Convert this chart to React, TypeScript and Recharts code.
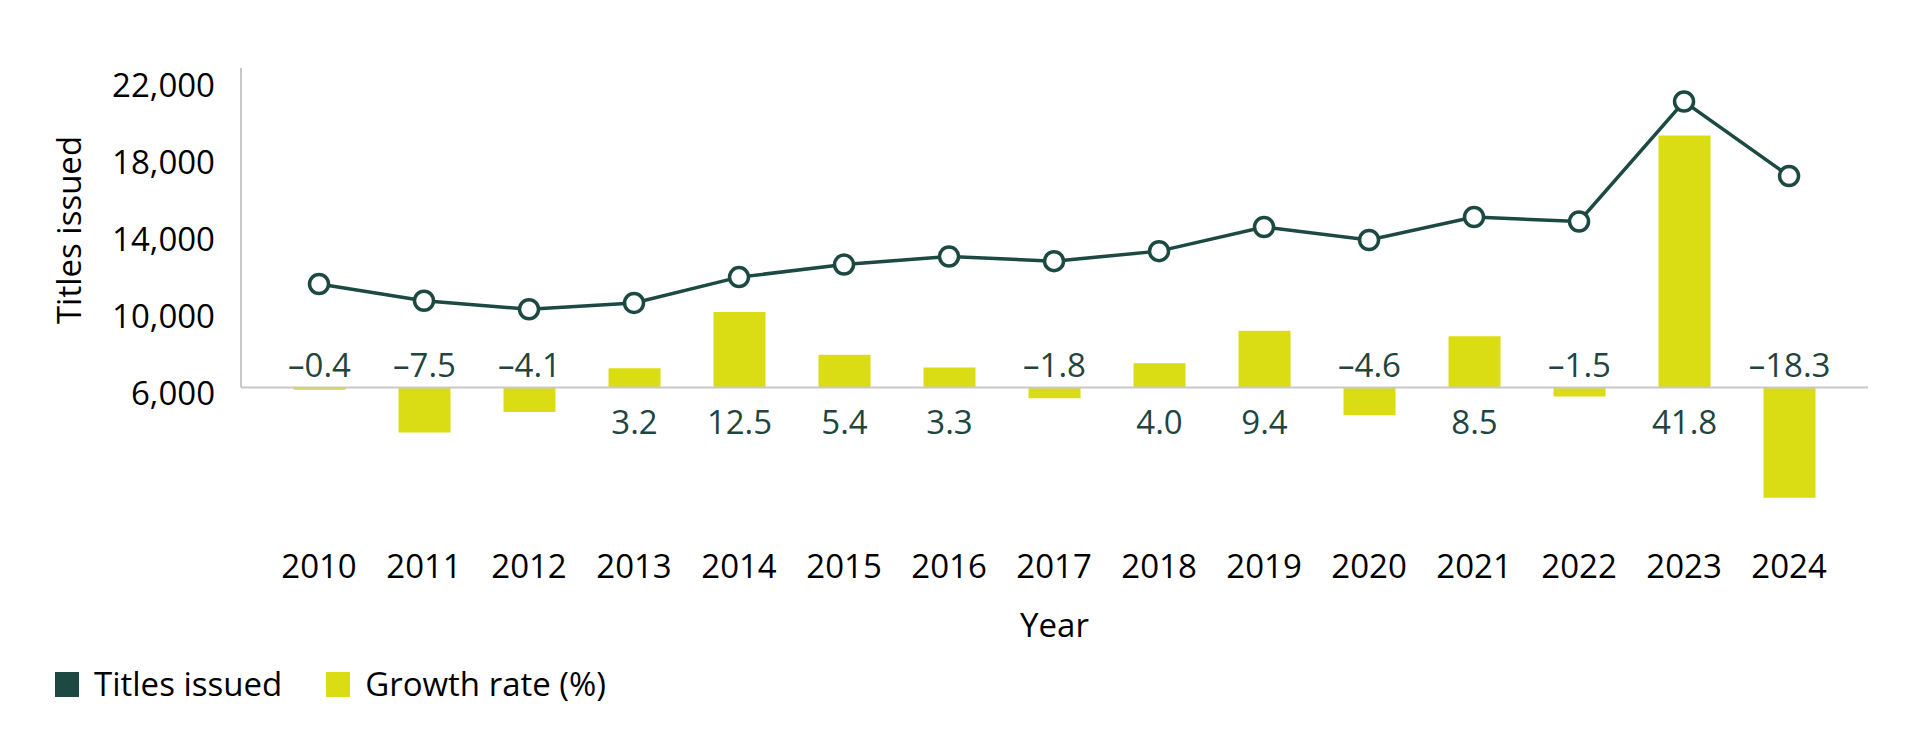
import React from "react";
import {
  ComposedChart,
  Bar,
  Line,
  XAxis,
  YAxis,
  ReferenceLine,
  LabelList,
} from "recharts";

const years = [
  2010, 2011, 2012, 2013, 2014, 2015, 2016, 2017, 2018, 2019, 2020, 2021,
  2022, 2023, 2024,
];

const titlesIssued = [
  11660, 10790, 10350, 10680, 12020, 12670, 13090, 12850, 13370, 14620,
  13950, 15140, 14910, 21140, 17270,
];

const growthRate = [
  -0.4, -7.5, -4.1, 3.2, 12.5, 5.4, 3.3, -1.8, 4.0, 9.4, -4.6, 8.5, -1.5,
  41.8, -18.3,
];

const titleTicks = [6000, 10000, 14000, 18000, 22000];

const data = years.map((year, i) => ({
  year,
  titles: titlesIssued[i],
  growth: growthRate[i],
}));

const DARK = "#1c4a42";
const LIME = "#dadd14";
const GREY = "#c8c8c8";
const LABEL = "#1f4540";
const FONT = '"Open Sans", "Noto Sans", sans-serif';
const FS = 33;

const xDomain = [2009.257, 2024.752];

const fmtRate = (v: number) => (v < 0 ? "\u2013" : "") + Math.abs(v).toFixed(1);

const RateLabel = (props: any) => {
  const vb = props.viewBox && props.viewBox.width != null ? props.viewBox : props;
  const { x, y, width, height } = vb;
  const value = Number(props.value);
  const zeroY = value < 0 ? Math.min(y, y + height) : Math.max(y, y + height);
  const ty = value < 0 ? zeroY - 10 : zeroY + 47;
  return (
    <text
      x={x + width / 2}
      y={ty}
      textAnchor="middle"
      fill={LABEL}
      fontSize={FS}
      fontFamily={FONT}
    >
      {fmtRate(value)}
    </text>
  );
};

const YTitle = ({ viewBox }: any) => {
  const cx = viewBox.x + 60;
  const cy = viewBox.y + 162;
  return (
    <text
      x={cx}
      y={cy}
      transform={`rotate(-90, ${cx}, ${cy})`}
      textAnchor="middle"
      dominantBaseline="central"
      fill="#000"
      fontSize={FS}
      fontFamily={FONT}
    >
      Titles issued
    </text>
  );
};

const XTitle = ({ viewBox }: any) => (
  <text
    x={viewBox.x + viewBox.width / 2}
    y={viewBox.y + 117}
    textAnchor="middle"
    fill="#000"
    fontSize={FS}
    fontFamily={FONT}
  >
    Year
  </text>
);

const legendItems = [
  { name: "Titles issued", color: DARK },
  { name: "Growth rate (%)", color: LIME },
];

const ChartLegend = () => (
  <div
    style={{
      position: "absolute",
      left: 47,
      top: 658,
      display: "flex",
      alignItems: "center",
      fontFamily: FONT,
      fontSize: FS,
      lineHeight: "36px",
      color: "#000",
    }}
  >
    {legendItems.map((item) => (
      <div key={item.name} style={{ display: "flex", alignItems: "center", marginRight: 44 }}>
        <span
          style={{
            display: "inline-block",
            width: 24,
            height: 25,
            background: item.color,
            marginRight: 15,
          }}
        />
        <span>{item.name}</span>
      </div>
    ))}
  </div>
);

export default function App() {
  return (
    <div style={{ position: "relative", width: 1897, height: 713, fontFamily: FONT }}>
      <ComposedChart
        width={1897}
        height={713}
        data={data}
        margin={{ top: 60, right: 37, left: 0, bottom: 81 }}
      >
        <XAxis
          dataKey="year"
          type="number"
          domain={xDomain}
          ticks={years}
          allowDataOverflow
          axisLine={false}
          tickLine={false}
          tickSize={6}
          tickMargin={29}
          height={120}
          interval={0}
          tick={{ fill: "#000", fontSize: FS, fontFamily: FONT }}
          label={<XTitle />}
        />
        <YAxis
          yAxisId="left"
          domain={[-597, 22883]}
          ticks={titleTicks}
          allowDataOverflow
          width={233}
          axisLine={false}
          tickLine={false}
          tickSize={6}
          tickMargin={20}
          tickFormatter={(v: number) => v.toLocaleString("en-US")}
          tick={{ fill: "#000", fontSize: FS, fontFamily: FONT }}
          label={<YTitle />}
        />
        <YAxis
          yAxisId="right"
          orientation="right"
          domain={[-22, 53]}
          allowDataOverflow
          hide
        />
        <ReferenceLine yAxisId="right" y={0} stroke={GREY} strokeWidth={2} />
        <ReferenceLine
          yAxisId="right"
          stroke={GREY}
          strokeWidth={2}
          segment={[
            { x: xDomain[0], y: 0 },
            { x: xDomain[0], y: 53 },
          ]}
        />
        <Bar
          yAxisId="right"
          dataKey="growth"
          name="Growth rate (%)"
          fill={LIME}
          barSize={52}
          isAnimationActive={false}
        >
          <LabelList dataKey="growth" content={<RateLabel />} />
        </Bar>
        <Line
          yAxisId="left"
          dataKey="titles"
          name="Titles issued"
          stroke={DARK}
          strokeWidth={3.5}
          dot={{ r: 9.5, fill: "#fff", stroke: DARK, strokeWidth: 3.5 }}
          activeDot={false}
          isAnimationActive={false}
        />
      </ComposedChart>
      <ChartLegend />
    </div>
  );
}
